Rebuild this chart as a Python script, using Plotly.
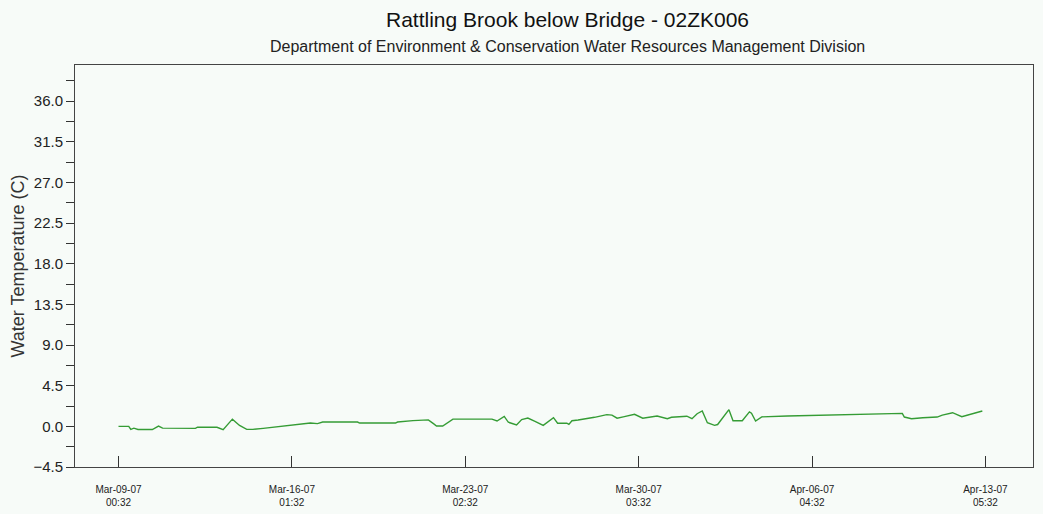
import plotly.graph_objects as go

# Hourly water temperature record, Rattling Brook below Bridge (02ZK006)
times = [
    "2007-03-09 00:32", "2007-03-09 10:32", "2007-03-09 12:32", "2007-03-09 15:32",
    "2007-03-09 19:32", "2007-03-10 09:32", "2007-03-10 15:32", "2007-03-10 19:32",
    "2007-03-12 03:32", "2007-03-12 05:32", "2007-03-13 00:32", "2007-03-13 06:32",
    "2007-03-13 15:32", "2007-03-13 22:32", "2007-03-14 05:32", "2007-03-14 11:32",
    "2007-03-14 21:32", "2007-03-15 09:32", "2007-03-15 20:32", "2007-03-16 07:32",
    "2007-03-16 19:32", "2007-03-17 02:32", "2007-03-17 07:32", "2007-03-18 17:32",
    "2007-03-18 19:32", "2007-03-20 06:32", "2007-03-20 08:32", "2007-03-20 23:32",
    "2007-03-21 09:32", "2007-03-21 11:32", "2007-03-21 14:32", "2007-03-21 19:32",
    "2007-03-21 22:32", "2007-03-22 04:32", "2007-03-22 11:32", "2007-03-22 14:32",
    "2007-03-23 12:32", "2007-03-24 04:32", "2007-03-24 09:32", "2007-03-24 16:32",
    "2007-03-24 20:32", "2007-03-25 04:32", "2007-03-25 09:32", "2007-03-25 15:32",
    "2007-03-25 22:32", "2007-03-26 06:32", "2007-03-26 16:32", "2007-03-26 20:32",
    "2007-03-27 05:32", "2007-03-27 07:32", "2007-03-27 10:32", "2007-03-27 16:32",
    "2007-03-28 08:32", "2007-03-28 20:32", "2007-03-29 01:32", "2007-03-29 06:32",
    "2007-03-29 12:32", "2007-03-29 23:32", "2007-03-30 07:32", "2007-03-30 21:32",
    "2007-03-31 07:32", "2007-03-31 11:32", "2007-04-01 02:32", "2007-04-01 07:32",
    "2007-04-01 12:32", "2007-04-01 17:32", "2007-04-01 22:32", "2007-04-02 05:32",
    "2007-04-02 08:32", "2007-04-02 19:32", "2007-04-02 23:32", "2007-04-03 08:32",
    "2007-04-03 15:32", "2007-04-03 17:32", "2007-04-03 21:32", "2007-04-04 03:32",
    "2007-04-05 04:32", "2007-04-06 23:32", "2007-04-08 20:32", "2007-04-09 20:32",
    "2007-04-09 22:32", "2007-04-10 05:32", "2007-04-10 16:32", "2007-04-11 06:32",
    "2007-04-11 11:32", "2007-04-11 21:32", "2007-04-12 06:32", "2007-04-12 16:32",
    "2007-04-13 02:32",
]

water_temp = [
    0.0, 0.0, -0.33, -0.2,
    -0.35, -0.35, 0.03, -0.2,
    -0.22, -0.1, -0.1, -0.37,
    0.8, 0.1, -0.33, -0.33,
    -0.22, -0.07, 0.03, 0.2,
    0.37, 0.3, 0.48, 0.48,
    0.37, 0.37, 0.48, 0.63,
    0.7, 0.77, 0.72, 0.3,
    0.04, 0.04, 0.6, 0.8,
    0.8, 0.8, 0.59, 1.1,
    0.45, 0.15, 0.75, 0.92,
    0.55, 0.11, 0.96, 0.35,
    0.35, 0.22, 0.62, 0.7,
    1.0, 1.3, 1.25, 0.9,
    1.05, 1.33, 0.9, 1.14,
    0.85, 1.0, 1.12, 0.85,
    1.4, 1.7, 0.4, 0.11,
    0.2, 1.85, 0.62, 0.62,
    1.6, 1.45, 0.59, 1.05,
    1.14, 1.25, 1.44, 1.44,
    1.03, 0.85, 0.96, 1.03,
    1.25, 1.51, 1.07, 1.4,
    1.7,
]

# Axis tick positions and their two-line labels
x_tick_vals = [
    "2007-03-09 00:32", "2007-03-16 01:32", "2007-03-23 02:32",
    "2007-03-30 03:32", "2007-04-06 04:32", "2007-04-13 05:32",
]
x_tick_text = [
    "Mar-09-07<br>00:32", "Mar-16-07<br>01:32", "Mar-23-07<br>02:32",
    "Mar-30-07<br>03:32", "Apr-06-07<br>04:32", "Apr-13-07<br>05:32",
]
x_range = ["2007-03-07 06:08", "2007-04-15 03:56"]
y_range = [-4.5, 40.0]

title = "Rattling Brook below Bridge - 02ZK006"
subtitle = "Department of Environment & Conservation Water Resources Management Division"
y_title = "Water Temperature (C)"

BG = "#f7fbf8"
FONT = "Liberation Sans, Arial, sans-serif"

fig = go.Figure()
fig.add_trace(go.Scatter(
    x=times, y=water_temp, mode="lines",
    line=dict(color="#359c35", width=1.4),
    hoverinfo="x+y", showlegend=False,
))

fig.update_layout(
    width=1043, height=514,
    margin=dict(l=75, r=10, t=65, b=47),
    paper_bgcolor=BG, plot_bgcolor=BG,
    font=dict(family=FONT, color="#222222"),
    showlegend=False,
    annotations=[
        dict(text=title, xref="paper", yref="paper", x=0.5146, y=1.112,
             xanchor="center", yanchor="middle", showarrow=False,
             font=dict(size=21, color="#111111", family=FONT)),
        dict(text=subtitle, xref="paper", yref="paper", x=0.5146, y=1.0448,
             xanchor="center", yanchor="middle", showarrow=False,
             font=dict(size=16, color="#222222", family=FONT)),
    ],
)

fig.update_xaxes(
    type="date", range=x_range, automargin=False,
    tickmode="array", tickvals=x_tick_vals, ticktext=x_tick_text,
    ticks="inside", ticklen=11, tickcolor="#333333", tickwidth=1,
    tickfont=dict(size=10, color="#222222", family=FONT),
    ticklabelstandoff=13,
    showgrid=False, zeroline=False,
    showline=True, linecolor="#444444", linewidth=1, mirror=True,
)

fig.update_yaxes(
    range=y_range, tick0=-4.5, dtick=4.5, tickformat=".1f", automargin=False,
    ticks="outside", ticklen=8, tickcolor="#333333", tickwidth=1,
    tickfont=dict(size=15, color="#222222", family=FONT),
    minor=dict(ticks="outside", ticklen=8, dtick=2.25, tick0=-4.5,
               tickcolor="#333333", showgrid=False),
    showgrid=False, zeroline=False,
    showline=True, linecolor="#444444", linewidth=1, mirror=True,
    title=dict(text=y_title, font=dict(size=18, color="#333333", family=FONT),
               standoff=4),
)

fig.write_html("out.html")
